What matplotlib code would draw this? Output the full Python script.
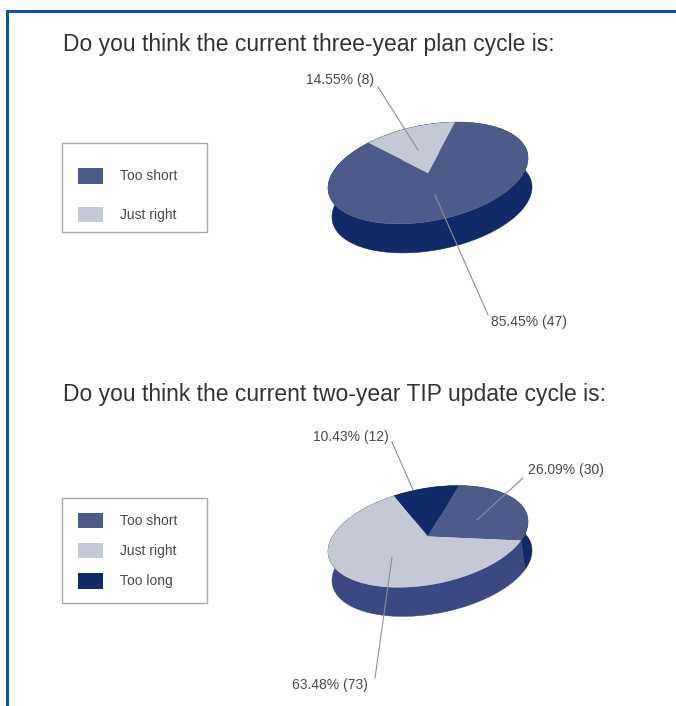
import matplotlib
matplotlib.use('Agg')
import matplotlib.pyplot as plt
from matplotlib.patches import Rectangle
from matplotlib.transforms import Affine2D
import numpy as np

plt.rcParams['font.family'] = ['Liberation Sans', 'DejaVu Sans']

# Datos
title_1 = 'Do you think the current three-year plan cycle is:'
cats_1 = ['Too short', 'Just right']
counts_1 = [47, 8]
labels_1 = ['85.45% (47)', '14.55% (8)']

title_2 = 'Do you think the current two-year TIP update cycle is:'
cats_2 = ['Too short', 'Just right', 'Too long']
counts_2 = [30, 73, 12]
labels_2 = ['26.09% (30)', '63.48% (73)', '10.43% (12)']

SLATE = '#4d5b88'
LIGHT = '#c5c9d5'
NAVY = '#0f2a66'
WALL = '#3a4982'
TEXT = '#333333'
SMALL = '#4a4a4a'
BORDER = '#0b56a4'
LEADER = '#8c8f98'

fig = plt.figure(figsize=(6.76, 7.06), dpi=100)
ax = fig.add_axes([0, 0, 1, 1])


def draw_pie(counts, start, center, tops, sides):
    cx, cy = center
    shape = Affine2D().scale(101.5, 48).rotate_deg(11).scale(1, -1).translate(cx, cy)
    wedges, _ = ax.pie(counts, colors=tops, startangle=start, counterclock=False,
                       wedgeprops={'linewidth': 0})
    for w, side in zip(wedges, sides):
        w.set_transform(shape + ax.transData)
        w.set_zorder(2)
        t = np.radians(np.linspace(w.theta1, w.theta2, 200))
        arc = shape.transform(np.column_stack([np.cos(t), np.sin(t)]))
        low = arc + [4, 29]
        ax.fill(np.r_[arc[:, 0], low[::-1, 0]], np.r_[arc[:, 1], low[::-1, 1]],
                color=side, lw=0.3, zorder=1)


def draw_legend(box_y, box_h, cats, colors, rows_y):
    ax.add_patch(Rectangle((62, box_y), 145, box_h, fc='white', ec='#a9a9a9', lw=1, zorder=3))
    for name, col, y in zip(cats, colors, rows_y):
        ax.add_patch(Rectangle((78, y - 8), 25, 15.5, fc=col, ec='none', zorder=4))
        ax.text(120, y + 0.5, name, fontsize=10, color=SMALL, va='center', zorder=4)


draw_pie(counts_1, 69, (428, 173), [SLATE, LIGHT], [NAVY, NAVY])
draw_pie(counts_2, 67, (428, 536.5), [SLATE, LIGHT, NAVY], [NAVY, WALL, NAVY])

# Limites en pixeles (pie los cambia)
ax.set_aspect('auto')
ax.set_xlim(0, 676)
ax.set_ylim(706, 0)
ax.axis('off')

ax.plot([7, 7, 676], [706, 11, 11], color=BORDER, lw=2.2, solid_joinstyle='miter', zorder=5)

ax.text(63, 44, title_1, fontsize=16.5, color=TEXT, va='center')
ax.text(63, 395, title_2, fontsize=16.5, color=TEXT, va='center')

draw_legend(143, 89, cats_1, [SLATE, LIGHT], [176, 214.5])
draw_legend(498, 105, cats_2, [SLATE, LIGHT, NAVY], [520.5, 550.5, 581])

# Etiquetas
ax.plot([378, 418], [87, 150], color=LEADER, lw=0.8, zorder=6)
ax.plot([488, 435], [315, 195], color=LEADER, lw=0.8, zorder=6)
ax.text(340, 80, labels_1[1], fontsize=10, color=SMALL, ha='center', va='center')
ax.text(529, 322, labels_1[0], fontsize=10, color=SMALL, ha='center', va='center')

ax.plot([392, 413], [442, 490], color=LEADER, lw=0.8, zorder=6)
ax.plot([523, 477], [478, 520], color=LEADER, lw=0.8, zorder=6)
ax.plot([375, 392], [678, 557], color=LEADER, lw=0.8, zorder=6)
ax.text(351, 437, labels_2[2], fontsize=10, color=SMALL, ha='center', va='center')
ax.text(566, 470, labels_2[0], fontsize=10, color=SMALL, ha='center', va='center')
ax.text(330, 685, labels_2[1], fontsize=10, color=SMALL, ha='center', va='center')

fig.savefig('out.png', dpi=100)
